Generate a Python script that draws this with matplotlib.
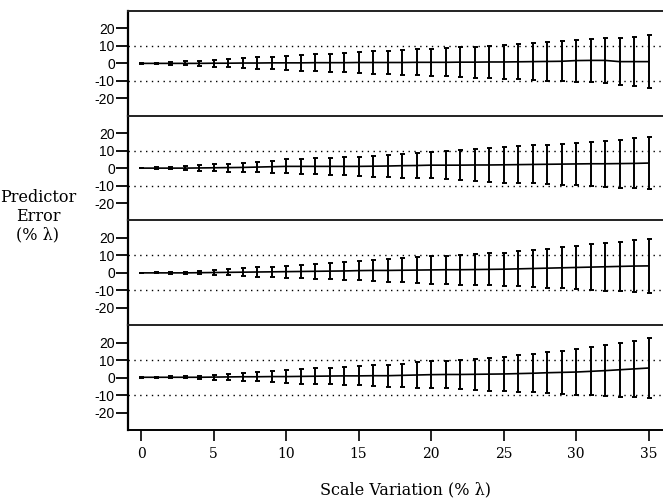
import matplotlib
matplotlib.use("Agg")
import matplotlib.pyplot as plt
import numpy as np

scale = list(range(0, 36))

mean1 = [0,0,0,0,0,0.1,0.1,0.2,0.2,0.3,0.3,0.3,0.4,0.4,0.4,0.5,0.5,0.5,0.5,0.6,0.6,0.6,0.7,0.7,0.8,0.8,0.9,1.0,1.1,1.2,1.6,1.7,1.7,1.0,1.0,1.0]
err1 = [0.2,0.4,0.7,1.2,1.6,2.0,2.4,2.8,3.2,3.6,4.0,4.4,4.8,5.2,5.6,6.0,6.4,6.7,7.0,7.4,7.8,8.1,8.5,8.9,9.3,9.7,10.1,10.5,11.0,11.5,12.0,12.4,12.9,13.5,14.0,15.0]

mean2 = [0,0,0,0,0.1,0.2,0.3,0.4,0.6,0.8,1.0,1.0,1.0,1.0,1.0,1.0,1.1,1.2,1.4,1.5,1.7,1.7,1.7,1.8,1.8,1.9,2.0,2.1,2.2,2.3,2.4,2.5,2.5,2.6,2.7,2.9]
err2 = [0.2,0.4,0.7,1.1,1.5,1.9,2.3,2.7,3.1,3.5,4.0,4.3,4.6,4.9,5.2,5.5,6.0,6.5,6.9,7.2,7.6,8.0,8.5,9.0,9.6,10.3,10.6,10.9,11.3,11.7,12.1,12.6,13.1,13.7,14.3,15.0]

mean3 = [0,0,0,0,0.1,0.2,0.3,0.4,0.5,0.6,0.7,0.8,0.9,1.0,1.1,1.3,1.4,1.4,1.5,1.6,1.7,1.8,1.8,1.9,2.0,2.1,2.3,2.5,2.7,2.9,3.1,3.3,3.5,3.7,3.9,4.0]
err3 = [0.2,0.3,0.5,0.7,1.0,1.5,1.8,2.2,2.6,3.0,3.45,3.8,4.2,4.6,5.0,5.4,5.9,6.4,6.8,7.3,7.8,8.1,8.5,8.8,9.2,9.5,10.0,10.5,11.1,11.8,12.5,13.0,13.6,14.2,14.8,15.4]

mean4 = [0.2,0.2,0.2,0.2,0.2,0.3,0.4,0.5,0.5,0.6,0.6,0.7,0.8,0.9,1.0,1.0,1.1,1.1,1.3,1.5,1.7,1.8,1.8,1.9,2.0,2.1,2.3,2.5,2.8,3.0,3.2,3.6,4.0,4.5,5.0,5.5]
err4 = [0.2,0.4,0.5,0.7,1.0,1.4,1.8,2.3,2.7,3.2,3.8,4.1,4.5,4.8,5.2,5.5,5.9,6.3,6.7,7.2,7.6,8.0,8.4,8.9,9.4,9.9,10.4,11.0,11.7,12.4,13.1,13.8,14.6,15.4,16.2,17.1]

means = [mean1, mean2, mean3, mean4]
errs = [err1, err2, err3, err4]

yticks = [20, 10, 0, -10, -20]
ytick_labels = ["20", "10", "0", "-10", "-20"]
xticks = [0, 5, 10, 15, 20, 25, 30, 35]
ref_levels = [10, -10]

fig = plt.figure(figsize=(6.63, 4.98), dpi=100)
gs = fig.add_gridspec(4, 1, left=128/663, right=1.0, top=1-11/498, bottom=1-430/498, hspace=0)

axes = []
for i in range(4):
    ax = fig.add_subplot(gs[i, 0])
    axes.append(ax)
    ax.errorbar(scale, means[i], yerr=errs[i], color="black", lw=1.2,
                elinewidth=1.4, capsize=1.8, capthick=1.4)
    for lv in ref_levels:
        ax.axhline(lv, color="black", lw=1.0, linestyle=(0, (1, 3.2)))
    ax.set_xlim(-0.9, 36.0)
    ax.set_ylim(-30, 30)
    ax.set_yticks(yticks)
    ax.set_yticklabels(ytick_labels, family="Liberation Sans", fontsize=10)
    ax.tick_params(axis="y", direction="out", length=8.5, width=1.3, pad=1)
    ax.spines["right"].set_visible(False)
    ax.spines["left"].set_linewidth(1.6)
    ax.spines["top"].set_linewidth(1.4)
    ax.spines["top"].set_color("#222222")
    if i < 3:
        ax.spines["bottom"].set_visible(False)
        ax.tick_params(axis="x", bottom=False, labelbottom=False)
    else:
        ax.spines["bottom"].set_linewidth(1.4)
        ax.set_xticks(xticks)
        ax.set_xticklabels([str(v) for v in xticks], family="DejaVu Serif", fontsize=10)
        ax.tick_params(axis="x", direction="out", length=8, width=1.2, pad=4)

fig.text(405/663, 1-490/498, "Scale Variation (% \u03bb)", family="DejaVu Serif",
         fontsize=11.5, ha="center", va="center")
fig.text(38/663, 1-216/498, "Predictor\nError\n(% \u03bb)", family="DejaVu Serif",
         fontsize=11.5, ha="center", va="center", linespacing=1.15)

fig.savefig("out.png", dpi=100)
